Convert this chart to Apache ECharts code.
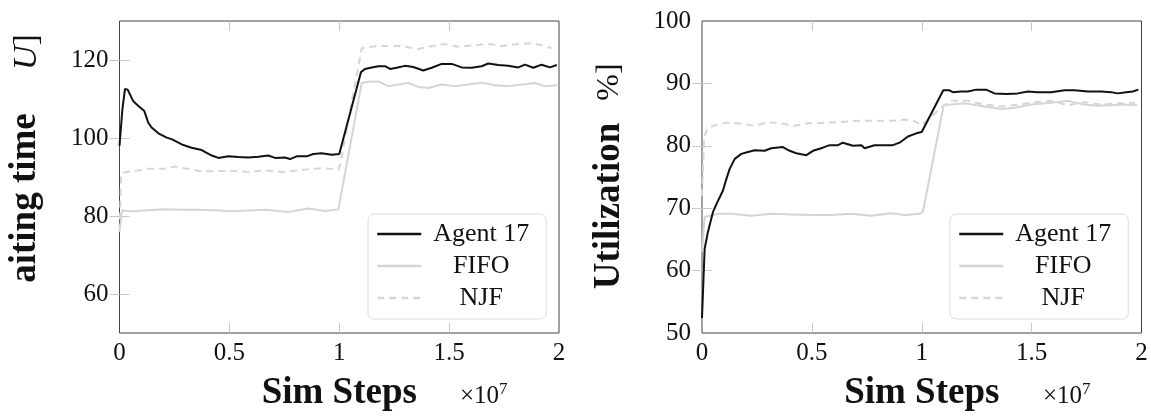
<!DOCTYPE html>
<html>
<head>
<meta charset="utf-8">
<script src="https://cdn.jsdelivr.net/npm/echarts@6/dist/echarts.min.js"></script>
<style>
html,body{margin:0;padding:0;background:#fff;}
#chart{width:1151px;height:417px;}
</style>
</head>
<body>
<div id="chart"></div>
<script>
// ---- data (x in units of 1e7 sim steps) ----
const seriesNames = ['Agent 17', 'FIFO', 'NJF'];
const xTickLabels = [0, 0.5, 1, 1.5, 2];
const waitTickLabels = [60, 80, 100, 120];
const utilTickLabels = [50, 60, 70, 80, 90, 100];

const waitAgent17 = [[0,98.0],[0.013,107.3],[0.025,112.6],[0.037,112.4],[0.063,109.4],[0.086,108.2],[0.113,106.9],[0.131,103.9],[0.146,102.7],[0.177,101.2],[0.215,100.1],[0.237,99.7],[0.29,98.2],[0.328,97.5],[0.374,96.9],[0.42,95.5],[0.45,94.9],[0.495,95.3],[0.54,95.1],[0.586,95.0],[0.632,95.2],[0.677,95.5],[0.708,94.9],[0.753,95.0],[0.776,94.6],[0.806,95.3],[0.852,95.3],[0.882,95.9],[0.92,96.1],[0.966,95.7],[1.0,95.9],[1.099,116.9],[1.117,117.7],[1.148,118.1],[1.178,118.4],[1.208,118.4],[1.231,117.7],[1.261,118.0],[1.299,118.5],[1.337,118.2],[1.382,117.3],[1.421,118.0],[1.466,119.0],[1.512,119.0],[1.557,118.1],[1.603,118.0],[1.648,118.4],[1.678,119.1],[1.724,118.7],[1.769,118.5],[1.815,118.1],[1.845,118.8],[1.883,118.0],[1.921,118.8],[1.959,118.1],[1.99,118.7]];
const waitFIFO = [[0,76.0],[0.012,81.5],[0.03,81.3],[0.06,81.2],[0.131,81.5],[0.207,81.7],[0.283,81.6],[0.359,81.6],[0.435,81.5],[0.51,81.2],[0.586,81.4],[0.662,81.6],[0.768,81.0],[0.859,81.9],[0.935,81.3],[0.996,81.7],[1.102,114.1],[1.132,114.4],[1.178,114.5],[1.223,113.3],[1.269,113.7],[1.314,114.1],[1.36,113.1],[1.405,112.8],[1.466,113.7],[1.527,113.3],[1.587,113.7],[1.648,114.2],[1.709,113.5],[1.769,113.3],[1.83,113.7],[1.891,114.1],[1.936,113.3],[1.99,113.5]];
const waitNJF = [[0,76.0],[0.008,90.8],[0.025,91.2],[0.075,91.6],[0.131,92.1],[0.207,92.1],[0.25,92.7],[0.33,91.9],[0.37,91.5],[0.435,91.5],[0.51,91.6],[0.586,91.3],[0.662,91.7],[0.74,91.3],[0.813,91.7],[0.874,92.1],[0.935,92.2],[0.996,91.9],[1.003,92.9],[1.102,123.0],[1.132,123.3],[1.178,123.6],[1.223,123.6],[1.284,123.6],[1.36,122.8],[1.405,123.4],[1.48,124.1],[1.542,123.4],[1.618,123.8],[1.686,124.1],[1.739,123.6],[1.815,124.1],[1.875,124.3],[1.921,123.8],[1.966,123.0]];

const utilAgent17 = [[0,52.4],[0.012,63.5],[0.027,66.2],[0.05,69.4],[0.073,71.2],[0.095,72.8],[0.111,74.7],[0.126,76.3],[0.149,77.9],[0.179,78.7],[0.209,79.0],[0.24,79.3],[0.285,79.2],[0.315,79.6],[0.368,79.8],[0.399,79.2],[0.429,78.8],[0.475,78.5],[0.505,79.2],[0.55,79.7],[0.581,80.1],[0.619,80.1],[0.641,80.5],[0.687,80.0],[0.725,80.1],[0.74,79.6],[0.785,80.1],[0.831,80.1],[0.869,80.1],[0.899,80.5],[0.937,81.5],[0.975,82.0],[1.0,82.2],[1.098,88.9],[1.126,88.9],[1.142,88.6],[1.18,88.7],[1.21,88.7],[1.248,89.0],[1.293,89.0],[1.331,88.4],[1.384,88.3],[1.437,88.4],[1.483,88.7],[1.528,88.6],[1.589,88.6],[1.65,88.9],[1.695,88.9],[1.756,88.7],[1.816,88.7],[1.862,88.6],[1.892,88.4],[1.93,88.6],[1.96,88.7],[1.986,89.0]];
const utilFIFO = [[0,63.0],[0.012,68.6],[0.073,69.1],[0.134,69.1],[0.225,68.8],[0.315,69.1],[0.406,69.0],[0.497,68.9],[0.588,68.9],[0.679,69.1],[0.77,68.8],[0.86,69.2],[0.922,68.9],[0.99,69.1],[1.005,69.4],[1.1,86.5],[1.134,86.6],[1.195,86.8],[1.286,86.3],[1.362,85.9],[1.422,86.1],[1.498,86.6],[1.589,86.9],[1.665,87.2],[1.74,86.6],[1.8,86.4],[1.862,86.5],[1.92,86.6],[1.98,86.5]];
const utilNJF = [[0,72.0],[0.01,81.5],[0.027,82.9],[0.057,83.3],[0.111,83.7],[0.164,83.6],[0.24,83.2],[0.3,83.8],[0.36,83.6],[0.42,83.2],[0.48,83.6],[0.557,83.7],[0.633,83.8],[0.709,84.0],[0.785,84.0],[0.86,84.0],[0.922,84.2],[0.97,83.9],[1.0,83.3],[1.098,86.4],[1.134,87.2],[1.21,87.2],[1.286,86.6],[1.362,86.3],[1.437,86.6],[1.513,87.0],[1.589,87.2],[1.665,86.5],[1.74,87.0],[1.816,86.6],[1.892,86.8],[1.97,86.9]];

// ---- styling ----
const FONT = '"Liberation Serif", "DejaVu Serif", serif';
const TEXT = '#111';
const TICK = '#c8c8c8';
const styles = {
  'Agent 17': {color: '#111111', type: 'solid'},
  'FIFO': {color: '#d4d4d4', type: 'solid'},
  'NJF': {color: '#d6d6d6', type: [7, 5]}
};

function xAxes(gridIndex) {
  const inner = xTickLabels.slice(1, -1);
  return [
    {type: 'value', gridIndex, min: 0, max: 2, position: 'bottom',
     axisLine: {show: false}, splitLine: {show: false},
     axisTick: {inside: true, length: 10, customValues: inner, lineStyle: {color: TICK, width: 1}},
     axisLabel: {customValues: xTickLabels, fontFamily: FONT, fontSize: 25, color: TEXT, margin: 8, showMinLabel: true, showMaxLabel: true},
     name: 'Sim Steps', nameLocation: 'middle', nameGap: 42,
     nameTextStyle: {fontFamily: FONT, fontSize: 37, fontWeight: 'bold', color: TEXT}},
    {type: 'value', gridIndex, min: 0, max: 2, position: 'top',
     axisLine: {show: false}, splitLine: {show: false}, axisLabel: {show: false},
     axisTick: {inside: true, length: 10, customValues: inner, lineStyle: {color: TICK, width: 1}}}
  ];
}
function yAxes(gridIndex, min, max, ticks) {
  const inner = ticks.filter(v => v > min && v < max);
  return [
    {type: 'value', gridIndex, min, max, position: 'left',
     axisLine: {show: false}, splitLine: {show: false},
     axisTick: {inside: true, length: 10, customValues: inner, lineStyle: {color: TICK, width: 1}},
     axisLabel: {customValues: ticks, fontFamily: FONT, fontSize: 25, color: TEXT, margin: 11, showMinLabel: true, showMaxLabel: true}},
    {type: 'value', gridIndex, min, max, position: 'right',
     axisLine: {show: false}, splitLine: {show: false}, axisLabel: {show: false},
     axisTick: {inside: true, length: 10, customValues: inner, lineStyle: {color: TICK, width: 1}}}
  ];
}
function mkSeries(name, data, xi, yi) {
  const s = styles[name];
  return {type: 'line', name, data, xAxisIndex: xi, yAxisIndex: yi,
    symbol: 'none', showSymbol: false, color: s.color, z: name === 'Agent 17' ? 5 : 3,
    lineStyle: {color: s.color, width: 2, type: s.type}, emphasis: {disabled: true}, silent: true};
}
function mkLegend(left) {
  return {show: true, orient: 'vertical', left, top: 214, data: seriesNames,
    itemWidth: 44, itemHeight: 14, itemGap: 6, padding: [7, 10, 8, 8],
    backgroundColor: '#fff', borderColor: '#dcdcdc', borderWidth: 1, borderRadius: 6,
    selectedMode: false, formatter: n => '{t|' + n + '}',
    itemStyle: {opacity: 0},
    lineStyle: {width: 2.5},
    textStyle: {rich: {t: {width: 110, align: 'center', fontFamily: FONT, fontSize: 26, color: TEXT, lineHeight: 28}}}};
}

const option = {
  animation: false,
  backgroundColor: '#fff',
  grid: [
    {left: 119.5, top: 21, width: 439.5, height: 314, show: true, borderColor: '#444', borderWidth: 1, backgroundColor: 'transparent'},
    {left: 702, top: 21, width: 439.5, height: 314, show: true, borderColor: '#444', borderWidth: 1, backgroundColor: 'transparent'}
  ],
  xAxis: [...xAxes(0), ...xAxes(1)],
  yAxis: [...yAxes(0, 50, 130, waitTickLabels), ...yAxes(1, 50, 100, utilTickLabels)],
  legend: [mkLegend(368), mkLegend(950)],
  series: [
    mkSeries('FIFO', waitFIFO, 0, 0),
    mkSeries('NJF', waitNJF, 0, 0),
    mkSeries('Agent 17', waitAgent17, 0, 0),
    mkSeries('FIFO', utilFIFO, 2, 2),
    mkSeries('NJF', utilNJF, 2, 2),
    mkSeries('Agent 17', utilAgent17, 2, 2)
  ],
  graphic: [
    {type: 'text', x: 25, y: 198, rotation: Math.PI / 2,
     style: {text: 'aiting time', fontFamily: FONT, fontSize: 37, fontWeight: 'bold', fill: TEXT, align: 'center', verticalAlign: 'middle'}},
    {type: 'text', x: 27, y: 52, rotation: Math.PI / 2,
     style: {text: '{i|U}]', fontFamily: FONT, fontSize: 34, fill: TEXT, align: 'center', verticalAlign: 'middle',
       rich: {i: {fontFamily: FONT, fontSize: 34, fontStyle: 'italic', fill: TEXT}}}},
    {type: 'text', x: 609, y: 206, rotation: Math.PI / 2,
     style: {text: 'Utilization', fontFamily: FONT, fontSize: 37, fontWeight: 'bold', fill: TEXT, align: 'center', verticalAlign: 'middle'}},
    {type: 'text', x: 610, y: 82, rotation: Math.PI / 2,
     style: {text: '%]', fontFamily: FONT, fontSize: 32, fill: TEXT, align: 'center', verticalAlign: 'middle'}},
    {type: 'text', x: 460, y: 396,
     style: {text: '×10{s|7}', fontFamily: FONT, fontSize: 25, fill: TEXT, align: 'left', verticalAlign: 'middle',
       rich: {s: {fontFamily: FONT, fontSize: 17, fill: TEXT, verticalAlign: 'top', padding: [0, 0, 12, 0]}}}},
    {type: 'text', x: 1043, y: 396,
     style: {text: '×10{s|7}', fontFamily: FONT, fontSize: 25, fill: TEXT, align: 'left', verticalAlign: 'middle',
       rich: {s: {fontFamily: FONT, fontSize: 17, fill: TEXT, verticalAlign: 'top', padding: [0, 0, 12, 0]}}}}
  ]
};

const chart = echarts.init(document.getElementById('chart'), null, {renderer: 'canvas'});
chart.setOption(option);
</script>
</body>
</html>
